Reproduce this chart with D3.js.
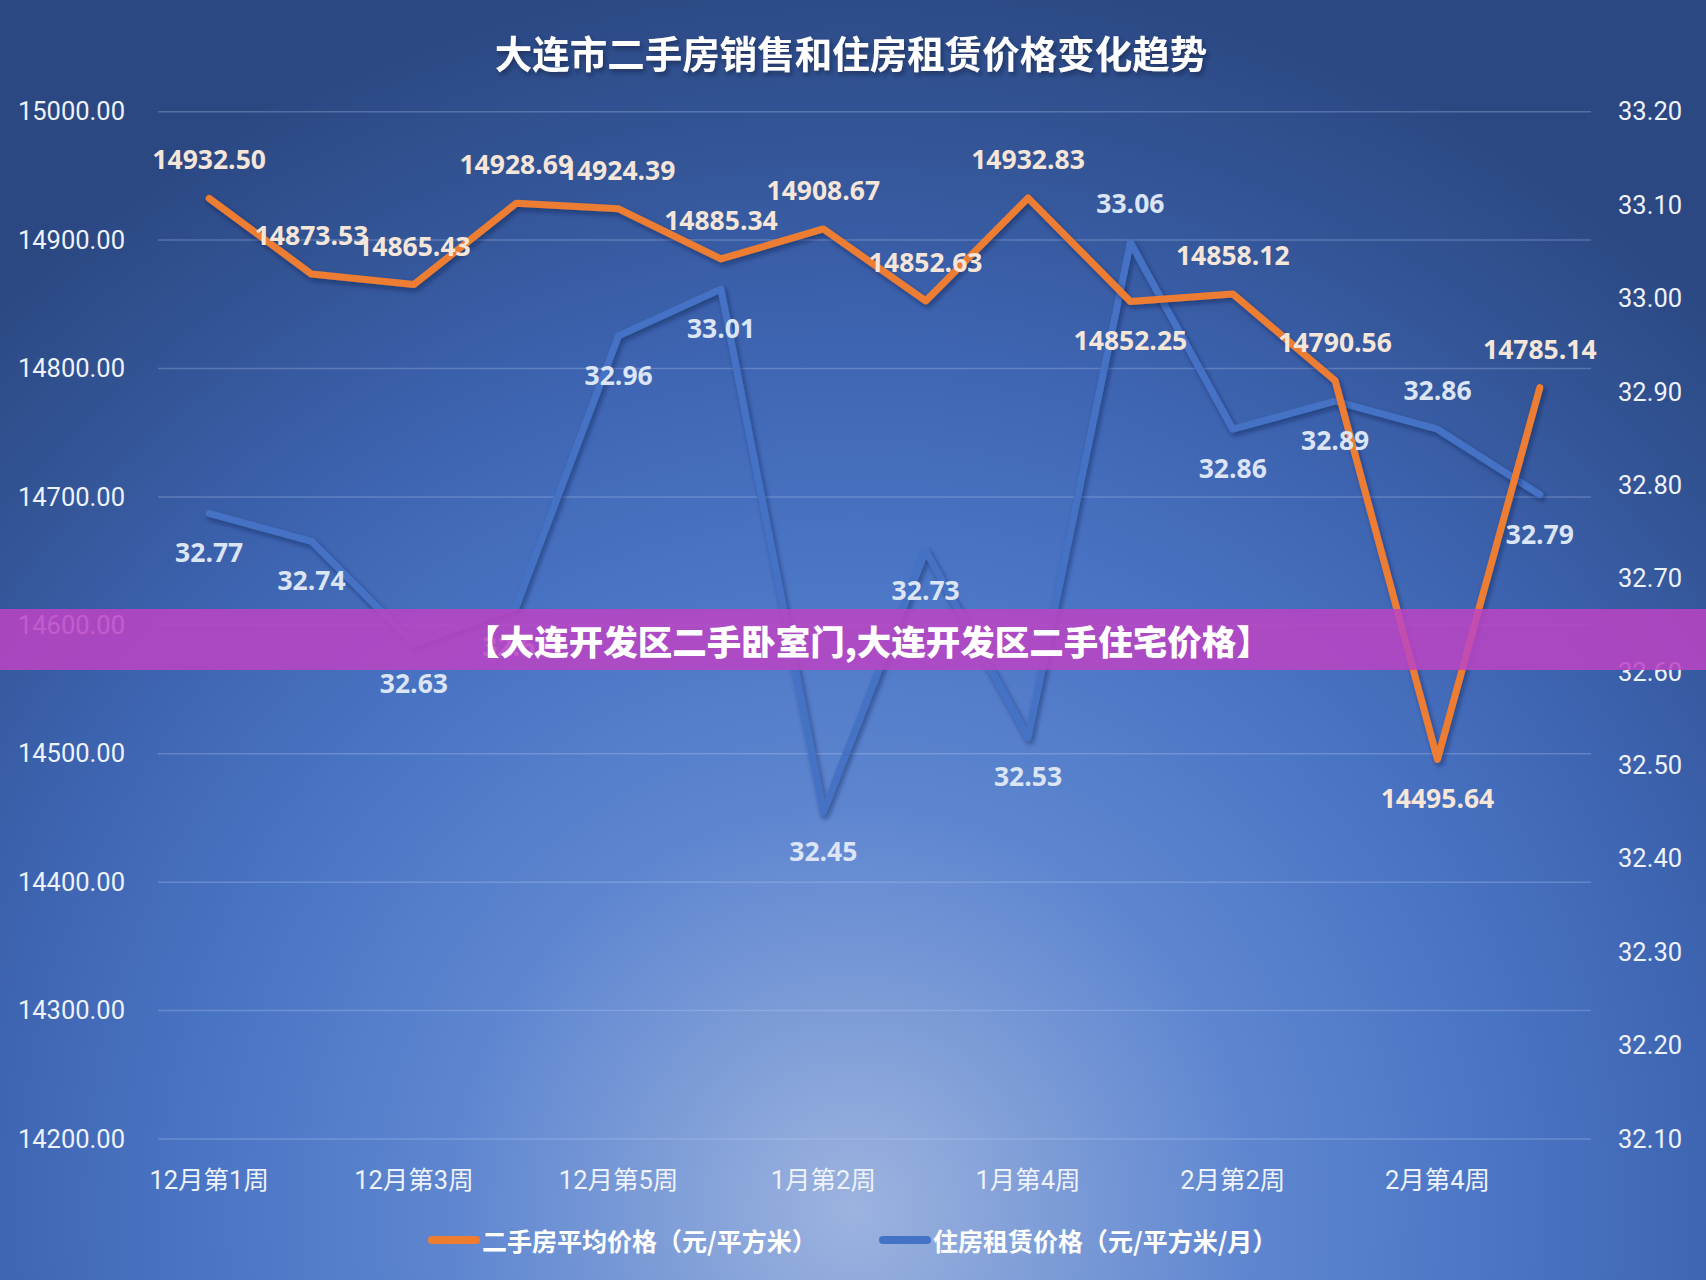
<!DOCTYPE html>
<html><head><meta charset="utf-8">
<script src="https://cdn.jsdelivr.net/npm/d3@7/dist/d3.min.js"></script>
<style>
html,body{margin:0;padding:0;background:#2e4c8b;}
svg{display:block;}
</style></head>
<body>
<svg id="chart" width="1706" height="1280"></svg>
<script>
const title = "大连市二手房销售和住房租赁价格变化趋势";
const bannerText = "【大连开发区二手卧室门,大连开发区二手住宅价格】";
const categories = ["12月第1周","12月第2周","12月第3周","12月第4周","12月第5周","1月第1周","1月第2周","1月第3周","1月第4周","2月第1周","2月第2周","2月第3周","2月第4周","3月第1周"];
const shownTicks = ["12月第1周","12月第3周","12月第5周","1月第2周","1月第4周","2月第2周","2月第4周"];
const salePrice = [14932.50,14873.53,14865.43,14928.69,14924.39,14885.34,14908.67,14852.63,14932.83,14852.25,14858.12,14790.56,14495.64,14785.14];
const rentPrice = [32.77,32.74,32.63,32.67,32.96,33.01,32.45,32.73,32.53,33.06,32.86,32.89,32.86,32.79];
const saleLabelSide = ["up","up","up","up","up","up","up","up","up","down","up","up","down","up"];
const rentLabelSide = ["down","down","down","down","down","down","down","down","down","up","down","down","up","down"];
const leftTicks = [14200,14300,14400,14500,14600,14700,14800,14900,15000];
const rightTicks = [32.1,32.2,32.3,32.4,32.5,32.6,32.7,32.8,32.9,33.0,33.1,33.2];
const seriesNames = ["二手房平均价格（元/平方米）","住房租赁价格（元/平方米/月）"];

const W = 1706, H = 1280;
const plot = {left:158, right:1591, top:111.7, bottom:1139};
const svg = d3.select("#chart");
const defs = svg.append("defs");

const bg = defs.append("radialGradient").attr("id","bg").attr("gradientUnits","userSpaceOnUse")
  .attr("cx",853).attr("cy",1210).attr("r",1250);
[[0,"#9cb3df"],[0.14,"#819fd8"],[0.32,"#5e86d0"],[0.52,"#4a75c5"],[0.72,"#3c62ae"],[0.88,"#325393"],[1,"#2b4883"]]
  .forEach(s=>bg.append("stop").attr("offset",s[0]).attr("stop-color",s[1]));
const sh = defs.append("filter").attr("id","shadow").attr("x","-10%").attr("y","-10%").attr("width","120%").attr("height","130%");
sh.append("feDropShadow").attr("dx",2).attr("dy",3).attr("stdDeviation",2.5).attr("flood-color","#0a1a40").attr("flood-opacity",0.45);
const tsh = defs.append("filter").attr("id","tshadow").attr("x","-10%").attr("y","-30%").attr("width","120%").attr("height","160%");
tsh.append("feDropShadow").attr("dx",2).attr("dy",3).attr("stdDeviation",2).attr("flood-color","#0a1a40").attr("flood-opacity",0.55);

svg.append("rect").attr("width",W).attr("height",H).attr("fill","url(#bg)");

const x = d3.scaleBand().domain(categories).range([plot.left, plot.right]);
const xc = d => x(d) + x.bandwidth()/2;
const yL = d3.scaleLinear().domain([14200,15000]).range([plot.bottom, plot.top]);
const yR = d3.scaleLinear().domain([32.1,33.2]).range([plot.bottom, plot.top]);

// gridlines
svg.append("g").selectAll("line").data(leftTicks).join("line")
  .attr("x1",plot.left).attr("x2",plot.right)
  .attr("y1",d=>yL(d)).attr("y2",d=>yL(d))
  .attr("stroke","rgba(190,210,245,0.28)").attr("stroke-width",1.5);

// left axis
const axL = svg.append("g").attr("transform",`translate(${plot.left},0)`)
  .call(d3.axisLeft(yL).tickValues(leftTicks).tickFormat(d3.format(".2f")).tickSize(0).tickPadding(33));
axL.select(".domain").remove();
axL.selectAll("text").attr("font-family","Roboto, sans-serif").attr("font-size",25.5).attr("fill","#eef2fa");

// right axis
const axR = svg.append("g").attr("transform",`translate(${plot.right},0)`)
  .call(d3.axisRight(yR).tickValues(rightTicks).tickFormat(d3.format(".2f")).tickSize(0).tickPadding(27));
axR.select(".domain").remove();
axR.selectAll("text").attr("font-family","Roboto, sans-serif").attr("font-size",25.5).attr("fill","#eef2fa");

// x axis
const axX = svg.append("g").attr("transform",`translate(0,${plot.bottom})`)
  .call(d3.axisBottom(x).tickValues(shownTicks).tickSize(0).tickPadding(32));
axX.select(".domain").remove();
axX.selectAll("text").attr("font-family","Roboto, 'Noto Sans CJK SC', sans-serif").attr("font-size",25.5).attr("fill","#eef2fa");

// lines
const lineR = d3.line().x((d,i)=>xc(categories[i])).y(d=>yR(d));
const lineL = d3.line().x((d,i)=>xc(categories[i])).y(d=>yL(d));
svg.append("path").datum(rentPrice).attr("d",lineR).attr("fill","none")
  .attr("stroke","#4472c4").attr("stroke-width",7).attr("stroke-linejoin","round").attr("stroke-linecap","round")
  .attr("filter","url(#shadow)");
svg.append("path").datum(salePrice).attr("d",lineL).attr("fill","none")
  .attr("stroke","#ed7d31").attr("stroke-width",7).attr("stroke-linejoin","round").attr("stroke-linecap","round")
  .attr("filter","url(#shadow)");

// data labels
const off = 39;
svg.append("g").selectAll("text").data(rentPrice).join("text")
  .attr("x",(d,i)=>xc(categories[i]))
  .attr("y",(d,i)=>yR(d) + (rentLabelSide[i]==="up" ? -off : off))
  .attr("text-anchor","middle").attr("dominant-baseline","central")
  .attr("font-family","'Open Sans', sans-serif").attr("font-weight",700).attr("font-size",26.5)
  .attr("fill","#dbe5f5").text(d=>d.toFixed(2));
svg.append("g").selectAll("text").data(salePrice).join("text")
  .attr("x",(d,i)=>xc(categories[i]))
  .attr("y",(d,i)=>yL(d) + (saleLabelSide[i]==="up" ? -off : off))
  .attr("text-anchor","middle").attr("dominant-baseline","central")
  .attr("font-family","'Open Sans', sans-serif").attr("font-weight",700).attr("font-size",26.5)
  .attr("fill","#f6e6da").text(d=>d.toFixed(2));

// title
svg.append("text").attr("x",851).attr("y",51).attr("text-anchor","middle").attr("dominant-baseline","central")
  .attr("font-family","'Noto Sans CJK SC', sans-serif").attr("font-weight",700).attr("font-size",37.5)
  .attr("fill","#ffffff").attr("filter","url(#tshadow)").text(title);

// legend
const legend = svg.append("g");
const legItems = [{name:seriesNames[0],color:"#ed7d31",x0:428},{name:seriesNames[1],color:"#4472c4",x0:879}];
legItems.forEach(it=>{
  legend.append("line").attr("x1",it.x0+4).attr("x2",it.x0+48).attr("y1",1240).attr("y2",1240)
    .attr("stroke",it.color).attr("stroke-width",8).attr("stroke-linecap","round");
  legend.append("text").attr("x",it.x0+54).attr("y",1240).attr("dominant-baseline","central")
    .attr("font-family","'Noto Sans CJK SC', sans-serif").attr("font-weight",700).attr("font-size",25)
    .attr("fill","#ffffff").text(it.name);
});

// banner overlay
svg.append("rect").attr("x",0).attr("y",609).attr("width",W).attr("height",61)
  .attr("fill","#bb44c4").attr("opacity",0.86);
svg.append("text").attr("x",868).attr("y",640).attr("text-anchor","middle").attr("dominant-baseline","central")
  .attr("font-family","'Noto Sans CJK SC', sans-serif").attr("font-weight",900).attr("font-size",34.5)
  .attr("fill","#ffffff").text(bannerText);
</script>
</body></html>
